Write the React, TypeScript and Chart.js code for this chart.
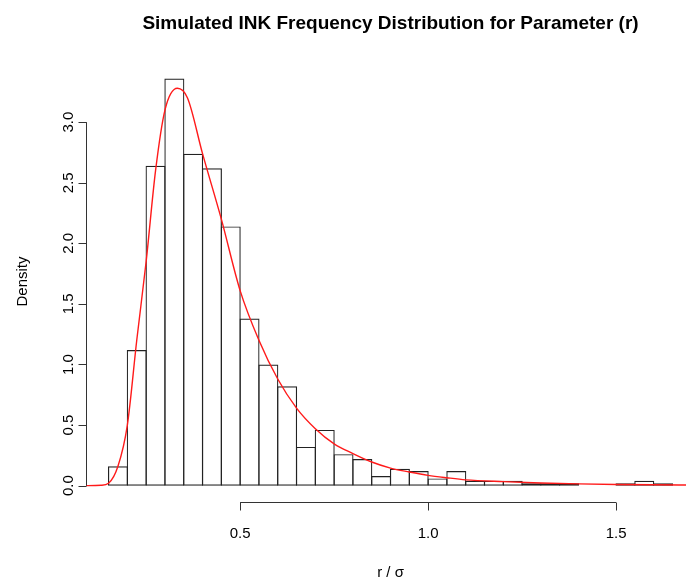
import React, { useEffect, useRef } from "react";
import { Chart, registerables } from "chart.js";

Chart.register(...registerables);

// Histogram bins (left edges) and densities
const binStarts = [0.15, 0.2, 0.25, 0.3, 0.35, 0.4, 0.45, 0.5, 0.55, 0.6, 0.65, 0.7, 0.75, 0.8, 0.85, 0.9, 0.95, 1.0, 1.05, 1.1, 1.15, 1.2, 1.25, 1.3, 1.35, 1.4, 1.45, 1.5, 1.55, 1.6];
const binWidth = 0.05;
const densities = [0.16, 1.12, 2.64, 3.36, 2.74, 2.62, 2.14, 1.38, 1.0, 0.82, 0.32, 0.46, 0.26, 0.22, 0.08, 0.14, 0.12, 0.06, 0.12, 0.04, 0.04, 0.04, 0.02, 0.02, 0.02, 0.0, 0.0, 0.02, 0.04, 0.02];

// Fitted density curve
const curveX = [0.09, 0.13, 0.15, 0.175, 0.2, 0.225, 0.25, 0.275, 0.3, 0.333, 0.36, 0.4, 0.45, 0.5, 0.55, 0.6, 0.65, 0.7, 0.75, 0.8, 0.85, 0.9, 0.95, 1.0, 1.05, 1.1, 1.2, 1.3, 1.4, 1.5, 1.6, 1.71];
const curveY = [0, 0.003, 0.02, 0.16, 0.5, 1.2, 1.85, 2.6, 3.1, 3.28, 3.2, 2.74, 2.2, 1.61, 1.2, 0.88, 0.64, 0.47, 0.345, 0.265, 0.195, 0.145, 0.113, 0.085, 0.065, 0.048, 0.033, 0.022, 0.015, 0.01, 0.007, 0.005];

const xTicks = [0.5, 1.0, 1.5];
const yTicks = [0, 0.5, 1.0, 1.5, 2.0, 2.5, 3.0];

const titleText = "Simulated INK Frequency Distribution for Parameter (r)";
const xLabel = "r / \u03c3";
const yLabel = "Density";

const FONT = '"Liberation Sans", Arial, Helvetica, sans-serif';

const axesPlugin = {
  id: "rAxes",
  afterDraw(chart: any) {
    const ctx = chart.ctx;
    const xs = chart.scales.x;
    const ys = chart.scales.y;
    const area = chart.chartArea;
    ctx.save();
    ctx.strokeStyle = "#333";
    ctx.fillStyle = "#000";
    ctx.lineWidth = 1;

    // x axis
    const yb = Math.round(area.bottom) + 0.5;
    const x0 = xs.getPixelForValue(xTicks[0]);
    const x1 = xs.getPixelForValue(xTicks[xTicks.length - 1]);
    ctx.beginPath();
    ctx.moveTo(x0, yb);
    ctx.lineTo(x1, yb);
    xTicks.forEach((t) => {
      const px = Math.round(xs.getPixelForValue(t)) + 0.5;
      ctx.moveTo(px, yb);
      ctx.lineTo(px, yb + 8);
    });
    ctx.stroke();
    ctx.font = `15px ${FONT}`;
    ctx.textAlign = "center";
    ctx.textBaseline = "middle";
    xTicks.forEach((t) => {
      ctx.fillText(t.toFixed(1), xs.getPixelForValue(t), yb + 31);
    });

    // y axis
    const xl = Math.round(area.left) + 0.5;
    const y0 = ys.getPixelForValue(yTicks[0]);
    const y1 = ys.getPixelForValue(yTicks[yTicks.length - 1]);
    ctx.beginPath();
    ctx.moveTo(xl, y0);
    ctx.lineTo(xl, y1);
    yTicks.forEach((t) => {
      const py = Math.round(ys.getPixelForValue(t)) + 0.5;
      ctx.moveTo(xl, py);
      ctx.lineTo(xl - 8, py);
    });
    ctx.stroke();
    yTicks.forEach((t) => {
      ctx.save();
      ctx.translate(xl - 18, ys.getPixelForValue(t));
      ctx.rotate(-Math.PI / 2);
      ctx.fillText(t.toFixed(1), 0, 0);
      ctx.restore();
    });

    // axis titles
    const cx = xs.getPixelForValue(0.9);
    ctx.fillText(xLabel, cx, yb + 70);
    ctx.save();
    ctx.translate(23, (area.top + area.bottom) / 2);
    ctx.rotate(-Math.PI / 2);
    ctx.fillText(yLabel, 0, 0);
    ctx.restore();

    // main title
    ctx.font = `bold 19px ${FONT}`;
    ctx.fillText(titleText, cx, 24);
    ctx.restore();
  },
};

export default function App() {
  const ref = useRef<HTMLCanvasElement | null>(null);
  useEffect(() => {
    if (!ref.current) return;
    const chart = new Chart(ref.current, {
      type: "bar",
      data: {
        datasets: [
          {
            type: "line",
            label: "density",
            data: curveX.map((x, i) => ({ x, y: curveY[i] })),
            borderColor: "#ff1a1a",
            borderWidth: 1.4,
            pointRadius: 0,
            cubicInterpolationMode: "monotone",
            order: 0,
          } as any,
          {
            type: "bar",
            label: "hist",
            data: binStarts.map((b, i) => ({ x: b + binWidth / 2, y: densities[i] })),
            backgroundColor: "rgba(0,0,0,0)",
            borderColor: "#222",
            borderWidth: 1.2,
            borderSkipped: false,
            barPercentage: 1.064,
            categoryPercentage: 1,
            order: 1,
          } as any,
        ],
      },
      options: {
        animation: false,
        responsive: false,
        devicePixelRatio: 1,
        layout: { padding: { left: 86, top: 61, right: 0, bottom: 76 } },
        plugins: { legend: { display: false }, tooltip: { enabled: false }, title: { display: false } },
        scales: {
          x: { type: "linear", min: 0.09, max: 1.686, display: false, offset: false },
          y: { type: "linear", min: -0.135, max: 3.505, display: false },
        },
      },
      plugins: [axesPlugin],
    });
    return () => chart.destroy();
  }, []);
  return (
    <div style={{ position: "fixed", left: 0, top: 0, width: 686, height: 578, background: "#fff" }}>
      <canvas ref={ref} width={686} height={578} />
    </div>
  );
}
